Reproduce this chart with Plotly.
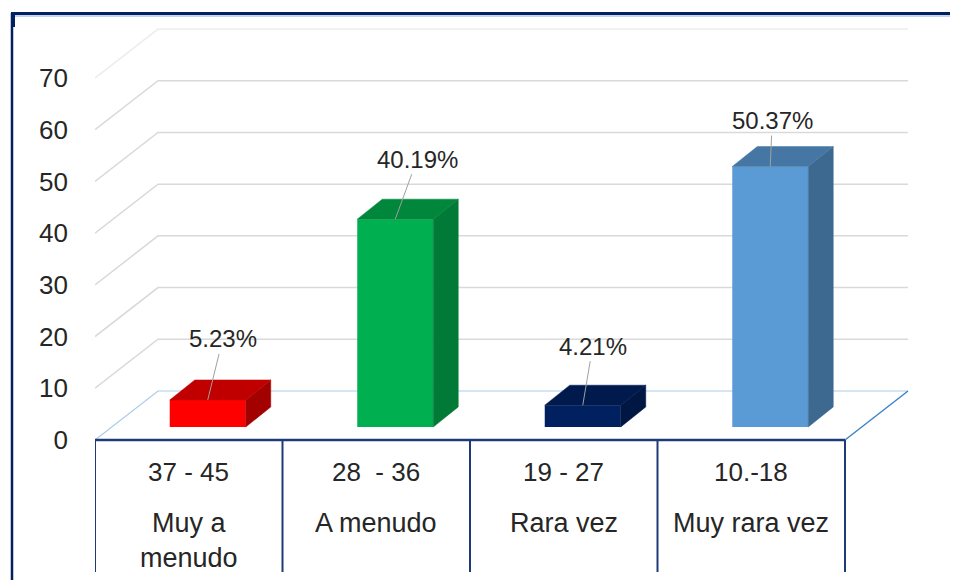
import plotly.graph_objects as go

# ---------------- data ----------------
rangos = ["37 - 45", "28\u00a0 - 36", "19 - 27", "10.-18"]
frecuencia = ["Muy a<br>menudo", "A menudo", "Rara vez", "Muy rara vez"]
porcentajes = [5.23, 40.19, 4.21, 50.37]
y_ticks = [0, 10, 20, 30, 40, 50, 60, 70]

# ---------------- styles ----------------
front_colors = ["#FF0000", "#00B050", "#002060", "#5B9BD5"]
top_colors = ["#C00000", "#00873C", "#001A4E", "#4677A4"]
side_colors = ["#A30000", "#007A36", "#001744", "#3D6890"]
label_offsets = [(15, -61), (22, -60), (10, -59), (2, -46)]  # pixel offsets of value labels
TEXT = "#262626"
FONT = "Liberation Sans, Arial, sans-serif"
NAVY = "#1F3A78"

# ---------------- geometry ----------------
# page has an 8px body margin; figure coordinates = page coordinates - 8
PAGE_OFF = 8
W, H = 958 - PAGE_OFF, 582 - PAGE_OFF
L, R, T, B = 95 - PAGE_OFF, 38, 16 - PAGE_OFF, 5
X_RANGE = [-0.5, 3.9]
Y_RANGE = [-26.5, 82]
plot_w = W - L - R
plot_h = H - T - B
ppx = plot_w / (X_RANGE[1] - X_RANGE[0])
ppy = plot_h / (Y_RANGE[1] - Y_RANGE[0])


def ux(p):
    return p / ppx


def uy(p):
    return p / ppy


def paper_x(px):  # px in page coordinates
    return (px - PAGE_OFF - L) / plot_w


def paper_y(py):
    return 1 - (py - PAGE_OFF - T) / plot_h


WALL_DX, WALL_DY = ux(63), uy(49)
BAR_OFF_X, BAR_OFF_Y = ux(19), uy(13)
BAR_W = ux(76)
BAR_DX, BAR_DY = ux(25), uy(20)
n = len(porcentajes)
x_left, x_right = -0.5, n - 0.5

fig = go.Figure()
shapes = []

# back-wall gridlines (diagonal + horizontal)
for v in y_ticks[1:]:
    col = "#EDEDED" if v == y_ticks[-1] else "#D9D9D9"
    shapes.append(dict(
        type="path", layer="below", line=dict(color=col, width=1.5),
        path=f"M {x_left},{v} L {x_left + WALL_DX},{v + WALL_DY} L {x_right + WALL_DX},{v + WALL_DY}",
        xref="x", yref="y"))

# floor
shapes.append(dict(type="path", layer="below", line=dict(color="#A9CBEA", width=1.2),
                   path=f"M {x_left},0 L {x_left + WALL_DX},{WALL_DY} L {x_right + WALL_DX},{WALL_DY}",
                   xref="x", yref="y"))
shapes.append(dict(type="line", layer="below", line=dict(color="#3C85C9", width=1.5),
                   x0=x_right, y0=0, x1=x_right + WALL_DX, y1=WALL_DY, xref="x", yref="y"))
shapes.append(dict(type="line", layer="above", line=dict(color=NAVY, width=2.5),
                   x0=x_left, y0=0, x1=x_right, y1=0, xref="x", yref="y"))

# category separators
sep_bottom = -uy(132)
for k in range(n + 1):
    xs = x_left + k
    shapes.append(dict(type="line", layer="above", line=dict(color=NAVY, width=2),
                       x0=xs, y0=0, x1=xs, y1=sep_bottom, xref="x", yref="y"))

# outer frame (top and left borders)
shapes.append(dict(type="line", xref="paper", yref="paper", line=dict(color="#8FA8D8", width=1),
                   x0=paper_x(12), y0=paper_y(16), x1=paper_x(960), y1=paper_y(16)))
shapes.append(dict(type="line", xref="paper", yref="paper", line=dict(color="#002060", width=3),
                   x0=paper_x(11), y0=paper_y(13.5), x1=paper_x(960), y1=paper_y(13.5)))
shapes.append(dict(type="line", xref="paper", yref="paper", line=dict(color="#002060", width=2.5),
                   x0=paper_x(12), y0=paper_y(13), x1=paper_x(12), y1=paper_y(580)))
shapes.append(dict(type="rect", xref="paper", yref="paper", line=dict(width=0), fillcolor="#002060",
                   x0=paper_x(11), y0=paper_y(13), x1=paper_x(15), y1=paper_y(27)))

# front faces of bars
fig.add_trace(go.Bar(
    x=[i + BAR_OFF_X for i in range(n)], y=porcentajes, base=BAR_OFF_Y, width=BAR_W,
    marker=dict(color=front_colors, line=dict(width=0)), hoverinfo="skip"))

# top and side faces
for i, v in enumerate(porcentajes):
    xl = i + BAR_OFF_X - BAR_W / 2
    xr = i + BAR_OFF_X + BAR_W / 2
    yb = BAR_OFF_Y
    yt = BAR_OFF_Y + v
    fig.add_trace(go.Scatter(
        x=[xr, xr, xr + BAR_DX, xr + BAR_DX, xr], y=[yb, yt, yt + BAR_DY, yb + BAR_DY, yb],
        fill="toself", fillcolor=side_colors[i], mode="lines",
        line=dict(color=side_colors[i], width=0.5), hoverinfo="skip"))
    fig.add_trace(go.Scatter(
        x=[xl, xr, xr + BAR_DX, xl + BAR_DX, xl], y=[yt, yt, yt + BAR_DY, yt + BAR_DY, yt],
        fill="toself", fillcolor=top_colors[i], mode="lines",
        line=dict(color=top_colors[i], width=0.5), hoverinfo="skip"))

annotations = []
# value labels with leader lines
for i, v in enumerate(porcentajes):
    axp, ayp = label_offsets[i]
    annotations.append(dict(
        x=i + BAR_OFF_X, y=v + BAR_OFF_Y, xref="x", yref="y",
        text=f"{v:.2f}%", showarrow=True, arrowhead=0, arrowwidth=1, arrowcolor="#A0A0A0",
        ax=axp, ay=ayp, standoff=0, font=dict(size=24, color=TEXT, family=FONT)))

# category labels
y_rango = -uy(472 - 440)
y_nombre = -uy(506 - 440)
for i in range(n):
    annotations.append(dict(x=i, y=y_rango, xref="x", yref="y", text=rangos[i], showarrow=False,
                            yanchor="middle", font=dict(size=26, color=TEXT, family=FONT)))
    annotations.append(dict(x=i, y=y_nombre, xref="x", yref="y", text=frecuencia[i], showarrow=False,
                            yanchor="top", font=dict(size=27, color=TEXT, family=FONT)))

fig.update_layout(
    width=W, height=H,
    margin=dict(l=L, r=R, t=T, b=B, autoexpand=False),
    paper_bgcolor="white", plot_bgcolor="white",
    showlegend=False,
    shapes=shapes, annotations=annotations,
    xaxis=dict(range=X_RANGE, visible=False, fixedrange=True),
    yaxis=dict(range=Y_RANGE, tickvals=y_ticks, ticktext=[str(t) for t in y_ticks],
               showgrid=False, zeroline=False, showline=False, ticks="",
               ticklabelstandoff=26, tickfont=dict(size=26, color=TEXT, family=FONT),
               fixedrange=True),
    font=dict(family=FONT, color=TEXT),
)

fig.write_html("out.html")
